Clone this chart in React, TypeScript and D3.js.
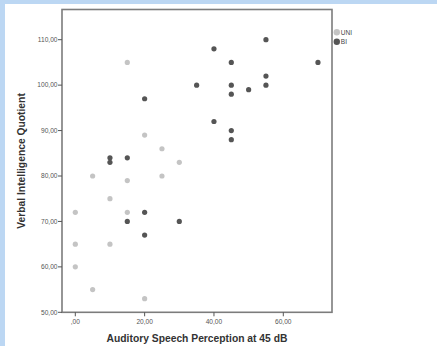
// @ts-nocheck
import * as d3 from "d3";

const uniX = [15, 20, 25, 30, 5, 25, 15, 10, 0, 15, 0, 10, 0, 5, 20];
const uniY = [105, 89, 86, 83, 80, 80, 79, 75, 72, 72, 65, 65, 60, 55, 53];
const biX = [40, 55, 45, 70, 55, 35, 45, 55, 50, 45, 20, 40, 45, 45, 10, 10, 15, 15, 20, 30, 20];
const biY = [108, 110, 105, 105, 102, 100, 100, 100, 99, 98, 97, 92, 90, 88, 84, 83, 84, 70, 72, 70, 67];
const xTicks = [0, 20, 40, 60];
const yTicks = [50, 60, 70, 80, 90, 100, 110];
const groups = ["UNI", "BI"];
const groupColors = ["#c4c4c4", "#555555"];

const W = 437;
const H = 346;
const plot = { left: 62, top: 9.5, right: 332, bottom: 312.3 };

const fmt = (v) => (v === 0 ? ",00" : d3.format(".2f")(v).replace(".", ","));

const App = () => {
    const xScale = d3.scaleLinear().domain([0, 60]).range([75.3, 283.3]);
    const yScale = d3.scaleLinear().domain([50, 110]).range([312.3, 39.7]);

    const uni = uniX.map((x, i) => ({ x, y: uniY[i] }));
    const bi = biX.map((x, i) => ({ x, y: biY[i] }));

    return (
        <svg
            width={W}
            height={H}
            style={{ position: "fixed", left: 0, top: 0, fontFamily: "Liberation Sans, Arial, sans-serif" }}
        >
            <rect x={0} y={0} width={W} height={H} fill="#bcd7f3" />
            <rect x={5} y={4} width={W - 5} height={H - 4} fill="#ffffff" />

            {/* frame */}
            <rect
                x={plot.left}
                y={plot.top}
                width={plot.right - plot.left}
                height={plot.bottom - plot.top}
                fill="none"
                stroke="#7c7c7c"
                strokeWidth={1.6}
            />

            {/* y ticks */}
            {yTicks.map((t) => (
                <g key={`y-${t}`}>
                    <line x1={plot.left - 4} x2={plot.left} y1={yScale(t)} y2={yScale(t)} stroke="#555" strokeWidth={1} />
                    <text
                        x={plot.left - 4.5}
                        y={yScale(t)}
                        dy="0.35em"
                        textAnchor="end"
                        fontSize={6.6}
                        fill="#555"
                    >
                        {fmt(t)}
                    </text>
                </g>
            ))}

            {/* x ticks */}
            {xTicks.map((t) => (
                <g key={`x-${t}`}>
                    <line x1={xScale(t)} x2={xScale(t)} y1={plot.bottom} y2={plot.bottom + 4} stroke="#555" strokeWidth={1} />
                    <text x={xScale(t)} y={plot.bottom + 11.5} textAnchor="middle" fontSize={6.6} fill="#555">
                        {fmt(t)}
                    </text>
                </g>
            ))}

            {/* points */}
            {uni.map((d, i) => (
                <circle key={`u-${i}`} cx={xScale(d.x)} cy={yScale(d.y)} r={2.6} fill={groupColors[0]} />
            ))}
            {bi.map((d, i) => (
                <circle key={`b-${i}`} cx={xScale(d.x)} cy={yScale(d.y)} r={2.6} fill={groupColors[1]} />
            ))}

            {/* legend */}
            {groups.map((g, i) => (
                <g key={g} transform={`translate(336.8, ${32.3 + i * 9.4})`}>
                    <circle r={3.2} fill={groupColors[i]} />
                    <text x={4} dy="0.35em" fontSize={6.5} fill="#444">
                        {g}
                    </text>
                </g>
            ))}

            {/* axis titles */}
            <text
                x={197}
                y={341.5}
                textAnchor="middle"
                fontSize={10.3}
                fontWeight="bold"
                fill="#333"
            >
                Auditory Speech Perception at 45 dB
            </text>
            <text
                transform={`translate(25, 161) rotate(-90)`}
                textAnchor="middle"
                fontSize={10.3}
                fontWeight="bold"
                fill="#333"
            >
                Verbal Intelligence Quotient
            </text>
        </svg>
    );
};

export default App;
